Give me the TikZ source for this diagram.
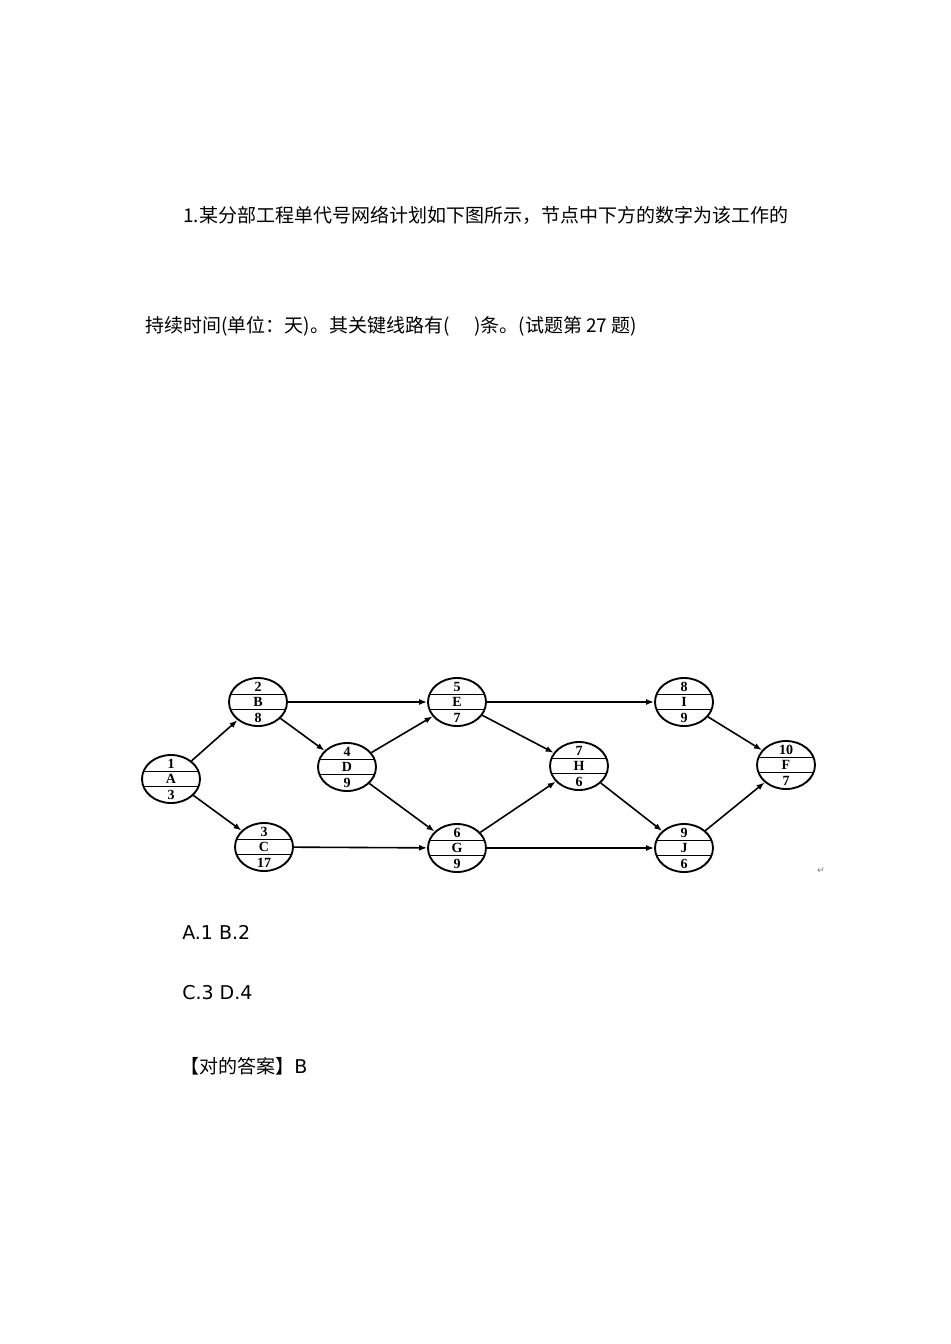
\documentclass[tikz,border=0pt]{standalone}
\usepackage{fontspec}
\setmainfont{DejaVu Sans}
\newfontfamily\cjk{Noto Sans CJK SC}
\newfontfamily\nodefont{Liberation Serif}
\usetikzlibrary{shapes.geometric,arrows.meta}
\newcommand\actnode[6]{%
  \node[act] (#1) at (#2,#3) {};
  \draw[divider] ([shift={(-27,-7.5)}]#1.center) -- ++(54,0);
  \draw[divider] ([shift={(-27,7.5)}]#1.center) -- ++(54,0);
  \node[lbl] (#1-top) at ([shift={(0,-15.5)}]#1.center) {#4};
  \node[lbl] (#1-mid) at (#1.center) {#5};
  \node[lbl] (#1-bot) at ([shift={(0,15.5)}]#1.center) {#6};
}
\begin{document}
\begin{tikzpicture}[x=0.75pt,y=-0.75pt,
  act/.style={ellipse, draw, line width=1.4pt, minimum width=43.5pt, minimum height=36pt, inner sep=0pt},
  divider/.style={line width=1.2pt},
  lbl/.style={font=\nodefont\bfseries\fontsize{10.5}{10.5}\selectfont, inner sep=0pt},
  link/.style={line width=1.2pt, -{Latex[length=6pt,width=4.5pt]}},
  txt/.style={anchor=base west, inner sep=0pt, font=\fontsize{14.25}{17}\selectfont},
]
\useasboundingbox (0,0) rectangle (950,1344);

\node[txt] (q1) at (183,223) {\cjk 1.某分部工程单代号网络计划如下图所示，节点中下方的数字为该工作的};
\node[txt] (q2) at (145,332) {\cjk 持续时间(单位：天)。其关键线路有(\hspace{1.3em})条。(试题第 27 题)};

\actnode{A}{171}{779}{1}{A}{3}
\actnode{B}{258}{702}{2}{B}{8}
\actnode{C}{264}{847}{3}{C}{17}
\actnode{D}{347}{767}{4}{D}{9}
\actnode{E}{457}{702}{5}{E}{7}
\actnode{G}{457}{848}{6}{G}{9}
\actnode{H}{579}{766}{7}{H}{6}
\actnode{I}{684}{702}{8}{I}{9}
\actnode{J}{684}{848}{9}{J}{6}
\actnode{F}{786}{765}{10}{F}{7}

\draw[link] (A) -- (B);
\draw[link] (A) -- (C);
\draw[link] (B) -- (E);
\draw[link] (B) -- (D);
\draw[link] (D) -- (E);
\draw[link] (D) -- (G);
\draw[link] (C) -- (G);
\draw[link] (E) -- (H);
\draw[link] (E) -- (I);
\draw[link] (G) -- (H);
\draw[link] (G) -- (J);
\draw[link] (H) -- (J);
\draw[link] (I) -- (F);
\draw[link] (J) -- (F);

\node[gray, inner sep=0pt, font=\fontsize{7}{7}\selectfont] (ret) at (821,871) {↵};

\node[txt] (optAB) at (182,939) {A.1 B.2};
\node[txt] (optCD) at (182,999) {C.3 D.4};
\node[txt] (ans) at (180,1073) {\cjk 【对的答案】\normalfont B};
\end{tikzpicture}
\end{document}
